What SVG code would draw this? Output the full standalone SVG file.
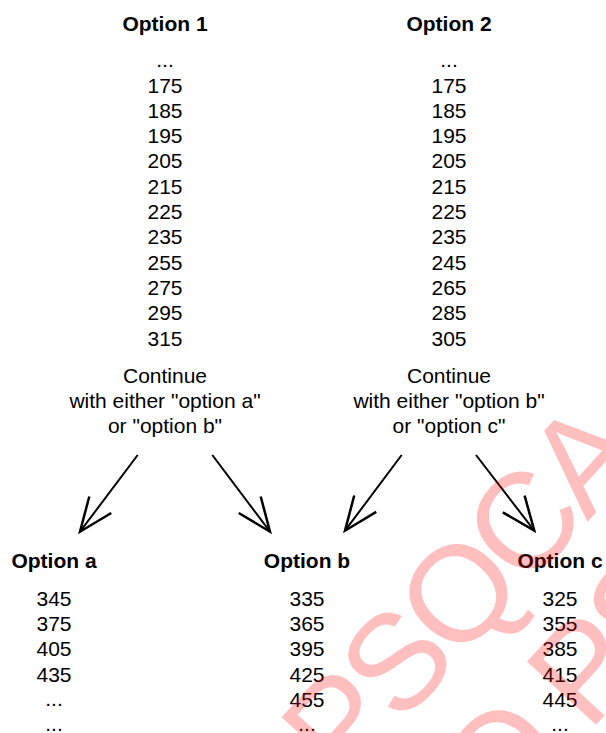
<svg xmlns="http://www.w3.org/2000/svg" width="606" height="733" viewBox="0 0 606 733">
<defs>
<style>
text{font-family:"Liberation Sans",Arial,sans-serif;font-size:21px;fill:#000;text-anchor:middle}
.h{font-weight:bold}
.wm{font-size:136px;letter-spacing:-6px;fill:#ff0000;fill-opacity:0.25;text-anchor:start}
.c{fill:none;stroke:#000;stroke-width:2}
</style>
<marker id="ah" markerUnits="userSpaceOnUse" markerWidth="40" markerHeight="40" viewBox="-30 -15 32 30" refX="0" refY="0" orient="auto">
<path d="M-27,-11 L0,0 L-27,11" fill="none" stroke="#000" stroke-width="2"/>
</marker>
</defs>
<rect width="606" height="733" fill="#fff"/>
<g id="option1">
<text class="h" x="165" y="31">Option 1</text>
<text x="165" y="67">...</text>
<text x="165" y="92.5">175</text>
<text x="165" y="117.8">185</text>
<text x="165" y="143.1">195</text>
<text x="165" y="168.4">205</text>
<text x="165" y="193.7">215</text>
<text x="165" y="219">225</text>
<text x="165" y="244.3">235</text>
<text x="165" y="269.6">255</text>
<text x="165" y="294.9">275</text>
<text x="165" y="320.2">295</text>
<text x="165" y="345.5">315</text>
<text x="165" y="382.5">Continue</text>
<text x="165" y="407.8">with either "option a"</text>
<text x="165" y="433.1">or "option b"</text>
</g>
<g id="option2">
<text class="h" x="449" y="31">Option 2</text>
<text x="449" y="67">...</text>
<text x="449" y="92.5">175</text>
<text x="449" y="117.8">185</text>
<text x="449" y="143.1">195</text>
<text x="449" y="168.4">205</text>
<text x="449" y="193.7">215</text>
<text x="449" y="219">225</text>
<text x="449" y="244.3">235</text>
<text x="449" y="269.6">245</text>
<text x="449" y="294.9">265</text>
<text x="449" y="320.2">285</text>
<text x="449" y="345.5">305</text>
<text x="449" y="382.5">Continue</text>
<text x="449" y="407.8">with either "option b"</text>
<text x="449" y="433.1">or "option c"</text>
</g>
<g id="optiona">
<text class="h" x="54" y="568.3">Option a</text>
<text x="54" y="605.7">345</text>
<text x="54" y="631">375</text>
<text x="54" y="656.3">405</text>
<text x="54" y="681.6">435</text>
<text x="54" y="706.2">...</text>
<text x="54" y="730.5">...</text>
</g>
<g id="optionb">
<text class="h" x="307" y="568.3">Option b</text>
<text x="307" y="605.7">335</text>
<text x="307" y="631">365</text>
<text x="307" y="656.3">395</text>
<text x="307" y="681.6">425</text>
<text x="307" y="706.9">455</text>
<text x="307" y="730.5">...</text>
</g>
<g id="optionc">
<text class="h" x="560" y="568.3">Option c</text>
<text x="560" y="605.7">325</text>
<text x="560" y="631">355</text>
<text x="560" y="656.3">385</text>
<text x="560" y="681.6">415</text>
<text x="560" y="706.9">445</text>
<text x="560" y="730.5">...</text>
</g>
<g id="connectors" class="c">
<line x1="137.7" y1="455" x2="80" y2="531.7" marker-end="url(#ah)"/>
<line x1="212.3" y1="455" x2="270" y2="531.7" marker-end="url(#ah)"/>
<line x1="401.7" y1="455" x2="345" y2="530.7" marker-end="url(#ah)"/>
<line x1="476" y1="455" x2="534.3" y2="530.7" marker-end="url(#ah)"/>
</g>
<g id="watermark">
<text class="wm" transform="translate(343,788.7) rotate(-47.5)">PSQCA</text>
<text class="wm" transform="translate(588.8,732.8) rotate(-47.5)" x="-132">Q PSQCA</text>
</g>
</svg>
